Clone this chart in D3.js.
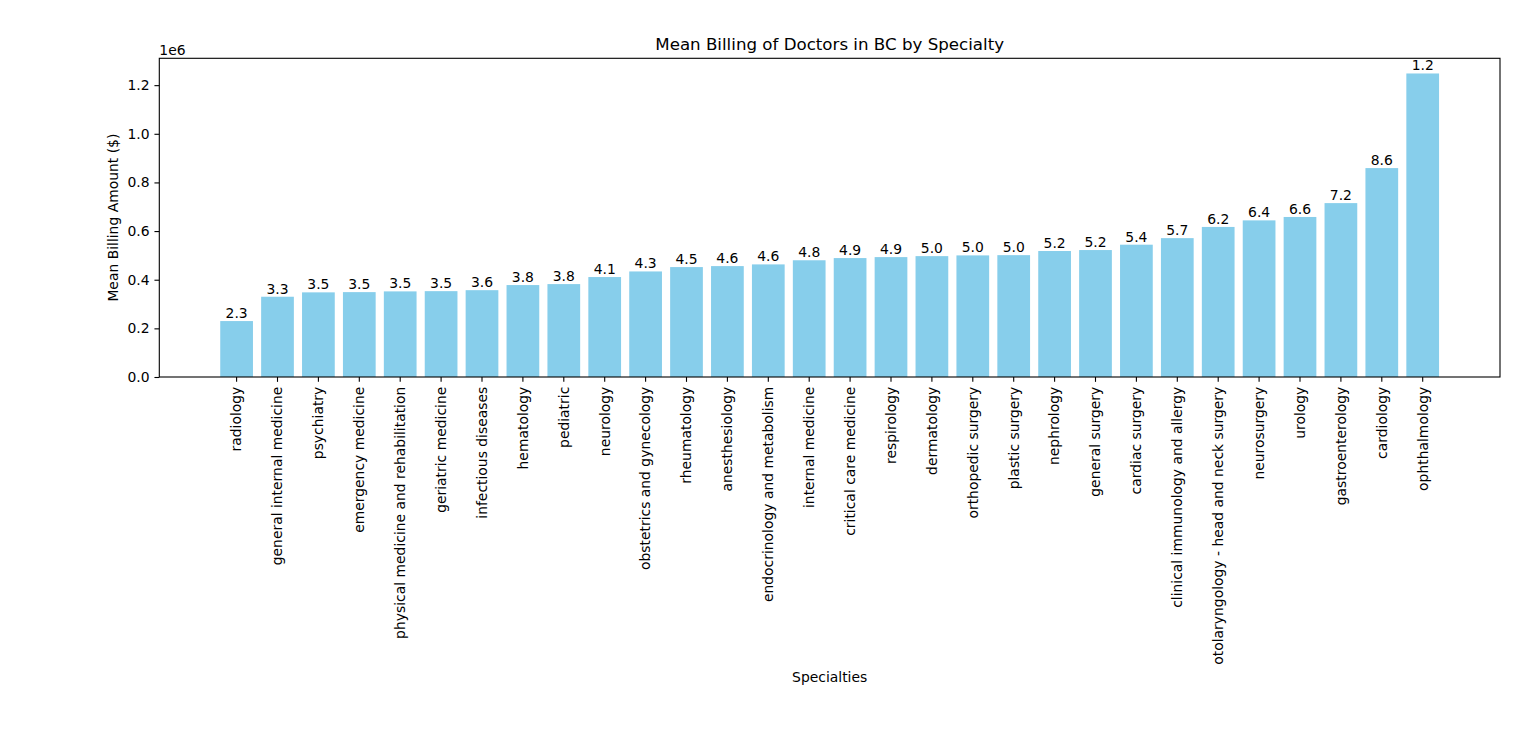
<!DOCTYPE html>
<html>
<head>
<meta charset="utf-8">
<script src="https://cdn.jsdelivr.net/npm/d3@7"></script>
<style>
body { margin: 0; background: #fff; }
text { font-family: "DejaVu Sans", sans-serif; }
</style>
</head>
<body>
<svg></svg>
<script>
const specialties = [
    "radiology", "general internal medicine", "psychiatry", "emergency medicine",
    "physical medicine and rehabilitation", "geriatric medicine", "infectious diseases",
    "hematology", "pediatric", "neurology", "obstetrics and gynecology", "rheumatology",
    "anesthesiology", "endocrinology and metabolism", "internal medicine",
    "critical care medicine", "respirology", "dermatology", "orthopedic surgery",
    "plastic surgery", "nephrology", "general surgery", "cardiac surgery",
    "clinical immunology and allergy", "otolaryngology - head and neck surgery",
    "neurosurgery", "urology", "gastroenterology", "cardiology", "ophthalmology"
]
const meanBilling = [
    230000, 330000, 348000, 349000, 352000, 353000, 357000,
    378000, 382000, 411000, 434000, 452000,
    456000, 463000, 480000,
    489000, 493000, 497000, 500000,
    501000, 518000, 522000, 544000,
    571000, 617000,
    644000, 658000, 715000, 859000, 1248000
]
const yTicks = [0, 200000, 400000, 600000, 800000, 1000000, 1200000]

const svgWidth = 1536
const svgHeight = 754
const margins = { top: 58.3, left: 159.3, right: 36, bottom: 377 } // bottom = y of x axis
const plotWidth = svgWidth - margins.left - margins.right
const plotHeight = margins.bottom - margins.top

const svg = d3.select("svg")
    .attr("width", svgWidth)
    .attr("height", svgHeight)

// matplotlib-like limits: bars span -0.4..n-0.6, 5% margin each side
const n = specialties.length
const span = (n - 0.2)
const lo = -0.4 - 0.05 * span
const hi = n - 0.6 + 0.05 * span
const unit = d3.scaleLinear().domain([lo, hi]).range([0, plotWidth])

const xScale = d3.scaleBand()
    .domain(specialties)
    .range([unit(-0.4), unit(n - 0.6)])
    .paddingInner(0.2)
    .paddingOuter(0)

const yScale = d3.scaleLinear()
    .domain([0, d3.max(meanBilling) * 1.05])
    .range([plotHeight, 0])

const plot = svg.append("g")
    .attr("transform", `translate(${margins.left},${margins.top})`)

plot.selectAll(".bar")
    .data(meanBilling)
    .join("rect")
    .attr("class", "bar")
    .attr("x", (d, i) => xScale(specialties[i]))
    .attr("y", (d) => yScale(d))
    .attr("width", xScale.bandwidth())
    .attr("height", (d) => plotHeight - yScale(d))
    .attr("fill", "#87CEEB")

// labels show the mantissa, like the original
plot.selectAll(".lbl")
    .data(meanBilling)
    .join("text")
    .attr("class", "lbl")
    .text((d) => d.toExponential(1).split("e")[0])
    .attr("x", (d, i) => xScale(specialties[i]) + xScale.bandwidth() / 2)
    .attr("y", (d) => yScale(d) - 3)
    .attr("text-anchor", "middle")
    .attr("font-size", 13.9)
    .attr("fill", "#000")

const tick = 4.86

const xAxis = plot.append("g")
    .attr("transform", `translate(0,${plotHeight})`)
    .call(d3.axisBottom(xScale).tickSize(tick).tickSizeOuter(0))
xAxis.select(".domain").remove()
xAxis.selectAll("line").attr("stroke", "#000").attr("stroke-width", 1.1)
xAxis.selectAll("text")
    .attr("y", 0)
    .attr("x", -(tick + 4.86))
    .attr("dy", "0.35em")
    .attr("transform", "rotate(-90)")
    .attr("text-anchor", "end")
    .attr("font-size", 13.9)
    .attr("font-family", "DejaVu Sans")
    .attr("fill", "#000")

const yAxis = plot.append("g")
    .call(d3.axisLeft(yScale).tickValues(yTicks).tickSize(tick).tickPadding(4.86)
        .tickFormat((d) => (d / 1e6).toFixed(1)))
yAxis.select(".domain").remove()
yAxis.selectAll("line").attr("stroke", "#000").attr("stroke-width", 1.1)
yAxis.selectAll("text")
    .attr("font-size", 13.9)
    .attr("font-family", "DejaVu Sans")
    .attr("fill", "#000")

plot.append("rect")
    .attr("x", 0)
    .attr("y", 0)
    .attr("width", plotWidth)
    .attr("height", plotHeight)
    .attr("fill", "none")
    .attr("stroke", "#000")
    .attr("stroke-width", 1.1)

svg.append("text")
    .text("1e6")
    .attr("x", margins.left)
    .attr("y", 55)
    .attr("font-size", 13.9)

svg.append("text")
    .text("Mean Billing of Doctors in BC by Specialty")
    .attr("x", margins.left + plotWidth / 2)
    .attr("y", 50)
    .attr("text-anchor", "middle")
    .attr("font-size", 16.67)

svg.append("text")
    .text("Mean Billing Amount ($)")
    .attr("transform", `translate(118,${margins.top + plotHeight / 2}) rotate(-90)`)
    .attr("text-anchor", "middle")
    .attr("font-size", 13.9)

svg.append("text")
    .text("Specialties")
    .attr("x", margins.left + plotWidth / 2)
    .attr("y", 682)
    .attr("text-anchor", "middle")
    .attr("font-size", 13.9)
</script>
</body>
</html>
